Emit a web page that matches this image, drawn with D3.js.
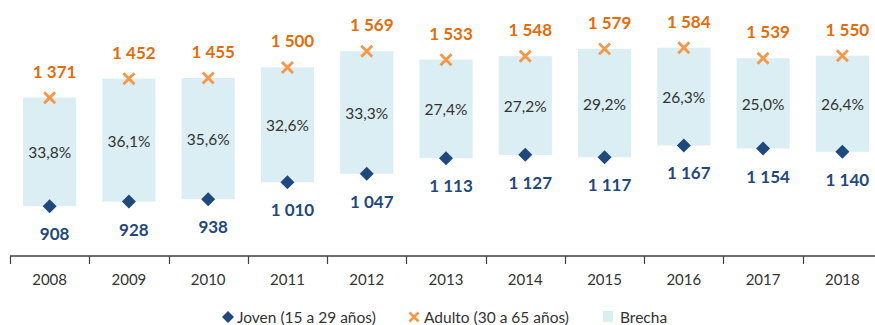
<!DOCTYPE html>
<html>
<head>
<meta charset="utf-8">
<script src="https://cdn.jsdelivr.net/npm/d3@7"></script>
<style>
  html, body { margin: 0; padding: 0; background: #fff; }
  svg text { font-family: Lato, "Open Sans", sans-serif; }
</style>
</head>
<body>
<svg id="chart" width="875" height="325"></svg>
<script>
// Income by age group, 2008-2018
const years = ["2008","2009","2010","2011","2012","2013","2014","2015","2016","2017","2018"];
const joven = [908, 928, 938, 1010, 1047, 1113, 1127, 1117, 1167, 1154, 1140];
const adulto = [1371, 1452, 1455, 1500, 1569, 1533, 1548, 1579, 1584, 1539, 1550];
const brecha = ["33,8%","36,1%","35,6%","32,6%","33,3%","27,4%","27,2%","29,2%","26,3%","25,0%","26,4%"];
const legendLabels = ["Joven (15 a 29 años)", "Adulto (30 a 65 años)", "Brecha"];

const C = {
  bar: "#DAEEF3",
  diamond: "#1F497D",
  cross: "#F79646",
  crossLabel: "#E46C0A",
  text: "#333333",
  axis: "#404040"
};

const svg = d3.select("#chart");
const axisY = 256;

const x = d3.scaleBand().domain(years).range([10, 882]).paddingInner(0.33).paddingOuter(0.165);
const y = d3.scaleLinear().domain([700, 1800]).range([axisY - 1, axisY - 1 - 1100 * 0.2345]);

// thousands separated by a space
const fmtSp = v => {
  const s = String(v);
  return s.length > 3 ? s.slice(0, s.length - 3) + " " + s.slice(-3) : s;
};

// Gap bars between the two groups
svg.append("g").selectAll("rect").data(years).join("rect")
  .attr("x", d => x(d))
  .attr("width", x.bandwidth())
  .attr("y", (d, i) => y(adulto[i]))
  .attr("height", (d, i) => y(joven[i]) - y(adulto[i]))
  .attr("fill", C.bar);

// Gap percentage labels
svg.append("g").selectAll("text").data(years).join("text")
  .attr("x", d => x(d) + x.bandwidth() / 2)
  .attr("y", (d, i) => (y(adulto[i]) + y(joven[i])) / 2 + 6.5)
  .attr("text-anchor", "middle")
  .attr("font-size", 15.5)
  .attr("fill", C.text)
  .text((d, i) => brecha[i]);

// Axis line and category ticks
const ag = svg.append("g");
ag.append("line").attr("x1", 10).attr("x2", 875).attr("y1", axisY).attr("y2", axisY)
  .attr("stroke", C.axis).attr("stroke-width", 1.3);
const tickXs = years.map(d => x(d) - x.step() * x.paddingInner() / 2);
ag.selectAll("line.tick").data(tickXs).join("line").attr("class", "tick")
  .attr("x1", d => Math.round(d) + 0.5).attr("x2", d => Math.round(d) + 0.5)
  .attr("y1", axisY).attr("y2", axisY + 8)
  .attr("stroke", C.axis).attr("stroke-width", 1.2);
ag.selectAll("text").data(years).join("text")
  .attr("x", d => x(d) + x.bandwidth() / 2)
  .attr("y", 284.5)
  .attr("text-anchor", "middle")
  .attr("font-size", 15)
  .attr("fill", C.text)
  .text(d => d);

// Young (diamond) markers and labels
const diamond = s => `M0,${-s}L${s},0L0,${s}L${-s},0Z`;
svg.append("g").selectAll("path").data(years).join("path")
  .attr("transform", (d, i) => `translate(${x(d) + x.bandwidth() / 2},${y(joven[i])})`)
  .attr("d", diamond(7))
  .attr("fill", C.diamond);
svg.append("g").selectAll("text").data(years).join("text")
  .attr("x", d => x(d) + x.bandwidth() / 2 + 5)
  .attr("y", (d, i) => y(joven[i]) + 34)
  .attr("text-anchor", "middle")
  .attr("font-size", 17)
  .attr("font-weight", "bold")
  .attr("fill", C.diamond)
  .text((d, i) => fmtSp(joven[i]));

// Adult (cross) markers and labels
const cross = s => `M${-s},${-s}L${s},${s}M${s},${-s}L${-s},${s}`;
svg.append("g").selectAll("path").data(years).join("path")
  .attr("transform", (d, i) => `translate(${x(d) + x.bandwidth() / 2},${y(adulto[i])})`)
  .attr("d", cross(5.5))
  .attr("stroke", C.cross)
  .attr("stroke-width", 2.8)
  .attr("fill", "none");
svg.append("g").selectAll("text").data(years).join("text")
  .attr("x", d => x(d) + x.bandwidth() / 2 + 5)
  .attr("y", (d, i) => y(adulto[i]) - 20)
  .attr("text-anchor", "middle")
  .attr("font-size", 17)
  .attr("font-weight", "bold")
  .attr("fill", C.crossLabel)
  .text((d, i) => fmtSp(adulto[i]));

// Legend
const lg = svg.append("g").attr("transform", "translate(0,323)");
lg.append("path").attr("d", diamond(6)).attr("transform", "translate(228,-6)").attr("fill", C.diamond);
lg.append("text").attr("x", 237).attr("y", 0).attr("font-size", 15.5).attr("fill", C.text).text(legendLabels[0]);
lg.append("path").attr("d", cross(4.5)).attr("transform", "translate(414,-6)")
  .attr("stroke", C.cross).attr("stroke-width", 2.5).attr("fill", "none");
lg.append("text").attr("x", 424).attr("y", 0).attr("font-size", 15.5).attr("fill", C.text).text(legendLabels[1]);
lg.append("rect").attr("x", 603).attr("y", -12).attr("width", 10).attr("height", 11).attr("fill", C.bar);
lg.append("text").attr("x", 620).attr("y", 0).attr("font-size", 15.5).attr("fill", C.text).text(legendLabels[2]);
</script>
</body>
</html>
